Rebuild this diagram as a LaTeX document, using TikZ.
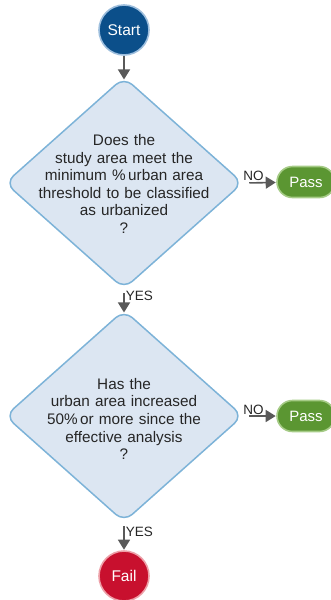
\documentclass[tikz,border=0pt]{standalone}
\usepackage{fontspec}
\setmainfont{Liberation Sans}
\usetikzlibrary{shapes.geometric,arrows.meta}
\definecolor{startblue}{HTML}{0B4F8A}
\definecolor{startring}{HTML}{9DBEDD}
\definecolor{qfill}{HTML}{DCE6F2}
\definecolor{qborder}{HTML}{7DB3D8}
\definecolor{passfill}{HTML}{5B9632}
\definecolor{passring}{HTML}{A5CB86}
\definecolor{failfill}{HTML}{C8102E}
\definecolor{failring}{HTML}{EDA0A8}
\definecolor{linkgray}{HTML}{595959}
\definecolor{textgray}{HTML}{262626}
\tikzset{
  terminal/.style={circle, minimum size=50pt, inner sep=0pt, line width=1.6pt,
    text=white, font=\fontsize{15.5}{17}\selectfont},
  decision/.style={diamond, minimum width=238pt, minimum height=212pt, inner sep=0pt,
    rounded corners=11pt, fill=qfill, draw=qborder, line width=1.5pt},
  qtext/.style={text width=210pt, align=center, text=textgray,
    font=\fontsize{15.3}{17.6}\selectfont},
  passbox/.style={rounded corners=15.5pt, minimum width=58pt, minimum height=31pt,
    inner sep=0pt, fill=passfill, draw=passring, line width=1.6pt,
    text=white, font=\fontsize{15}{16}\selectfont},
  link/.style={draw=linkgray, line width=1.6pt,
    -{Triangle[length=10pt,width=12pt]}, shorten >=0.5pt},
  % the rounded corners pull the visible tips of a decision inwards
  fromtop/.style={shorten <=3.7pt},
  intotop/.style={shorten >=-3.2pt},
  fromside/.style={shorten <=5.5pt},
  edgelabel/.style={text=textgray, font=\fontsize{13.5}{15}\selectfont, inner sep=1pt}
}
\begin{document}
\begin{tikzpicture}[x=1pt, y=-1pt]
  \useasboundingbox (0,0) rectangle (330,600);
  \node[terminal, fill=startblue, draw=startring] (start) at (124,30) {Start};
  \node[decision, label={[qtext, yshift=-1pt]center:{Does the\\study area meet the\\minimum \%\,urban area\\threshold to be classified\\as urbanized\\?}}] (d1) at (124,183) {};
  \node[passbox] (pass1) at (306,182) {Pass};
  \node[decision, label={[qtext, yshift=-3pt]center:{Has the\\urban area increased\\50\%\,or more since the\\effective analysis\\?}}] (d2) at (124,416) {};
  \node[passbox] (pass2) at (306,416) {Pass};
  \node[terminal, fill=failfill, draw=failring] (fail) at (124,576) {Fail};

  \draw[link, intotop] (start) -- (d1.north);
  \draw[link, fromside] (d1.east) -- node[edgelabel, above, pos=0.3] {NO} (pass1);
  \draw[link, fromtop, intotop] (d1.south) -- node[edgelabel, right, pos=0.3] {YES} (d2.north);
  \draw[link, fromside] (d2.east) -- node[edgelabel, above, pos=0.3] {NO} (pass2);
  \draw[link, fromtop] (d2.south) -- node[edgelabel, right, pos=0.32] {YES} (fail);
\end{tikzpicture}
\end{document}
